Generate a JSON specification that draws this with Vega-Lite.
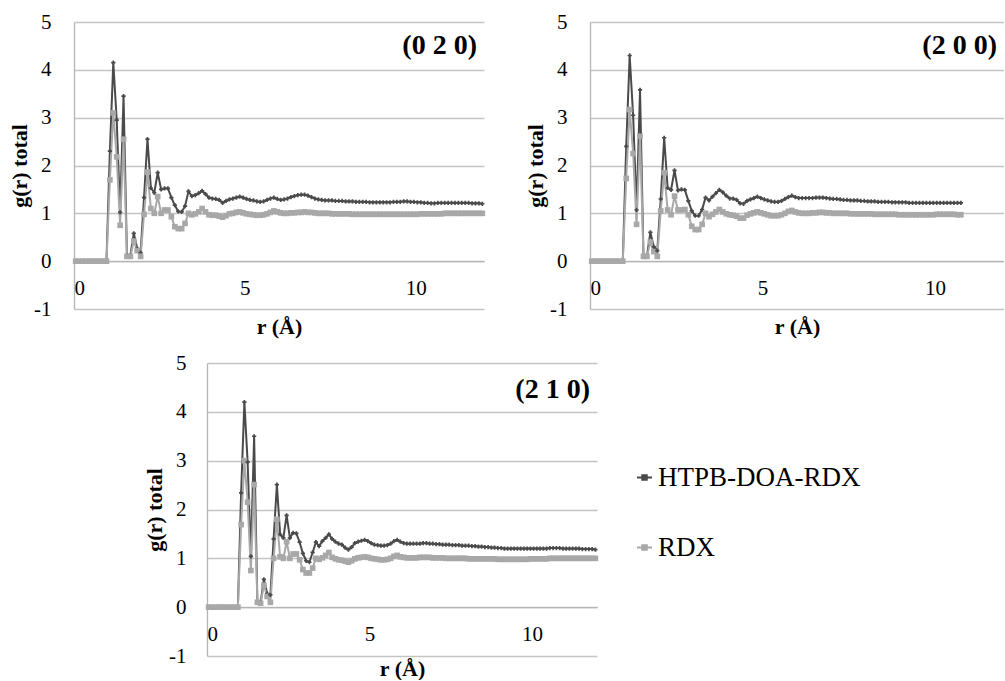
{
  "$schema": "https://vega.github.io/schema/vega-lite/v6.json",
  "background": "white",
  "padding": {"left": 8, "top": 11, "right": 0, "bottom": 0},
  "config": {
    "view": {"stroke": null},
    "font": "Liberation Serif",
    "axis": {
      "labelFont": "Liberation Serif", "labelFontSize": 21, "labelColor": "black",
      "titleFont": "Liberation Serif", "titleFontSize": 22, "titleFontWeight": "bold", "titleColor": "black",
      "ticks": false, "domainColor": "#b4b4b4", "domainWidth": 1.3, "gridColor": "#c4c4c4", "gridWidth": 1.3
    },
    "axisY": {"labelPadding": 23, "titlePadding": 2, "labelExpr": "'' + datum.value"},
    "axisX": {"grid": false, "labelPadding": 16, "titlePadding": 18},
    "legend": {"labelFont": "Liberation Serif"},
    "title": {"font": "Liberation Serif", "fontSize": 28, "fontWeight": "bold", "color": "black", "anchor": "end", "frame": "group", "orient": "top", "offset": -49, "dx": -7}
  },
  "datasets": {
    "p020": [
      {"r":0.05,"H":0,"R":0},{"r":0.15,"H":0,"R":0},{"r":0.25,"H":0,"R":0},{"r":0.35,"H":0,"R":0},{"r":0.45,"H":0,"R":0},{"r":0.55,"H":0,"R":0},{"r":0.65,"H":0,"R":0},{"r":0.75,"H":0,"R":0},{"r":0.85,"H":0,"R":0},{"r":0.95,"H":0,"R":0},
      {"r":1.05,"H":2.3,"R":1.7},{"r":1.15,"H":4.15,"R":3.1},{"r":1.25,"H":2.95,"R":2.18},{"r":1.35,"H":1.02,"R":0.75},{"r":1.45,"H":3.45,"R":2.55},{"r":1.55,"H":0.12,"R":0.1},{"r":1.65,"H":0.12,"R":0.1},{"r":1.75,"H":0.58,"R":0.42},{"r":1.85,"H":0.27,"R":0.22},{"r":1.95,"H":0.18,"R":0.1},
      {"r":2.05,"H":1.33,"R":0.98},{"r":2.15,"H":2.55,"R":1.86},{"r":2.25,"H":1.53,"R":1.1},{"r":2.35,"H":1.43,"R":1.0},{"r":2.45,"H":1.85,"R":1.35},{"r":2.55,"H":1.5,"R":1.0},{"r":2.65,"H":1.52,"R":1.07},{"r":2.75,"H":1.52,"R":1.07},{"r":2.85,"H":1.33,"R":0.93},{"r":2.95,"H":1.17,"R":0.72},
      {"r":3.05,"H":1.04,"R":0.68},{"r":3.15,"H":1.03,"R":0.68},{"r":3.25,"H":1.15,"R":0.79},{"r":3.35,"H":1.46,"R":1.0},{"r":3.45,"H":1.36,"R":0.97},{"r":3.55,"H":1.38,"R":0.99},{"r":3.65,"H":1.42,"R":1.03},{"r":3.75,"H":1.47,"R":1.1},{"r":3.85,"H":1.4,"R":1.03},{"r":3.95,"H":1.33,"R":0.97},
      {"r":4.05,"H":1.31,"R":0.96},{"r":4.15,"H":1.3,"R":0.96},{"r":4.25,"H":1.28,"R":0.94},{"r":4.35,"H":1.22,"R":0.92},{"r":4.45,"H":1.26,"R":0.95},{"r":4.55,"H":1.29,"R":0.99},{"r":4.65,"H":1.31,"R":1.0},{"r":4.75,"H":1.33,"R":1.02},{"r":4.85,"H":1.35,"R":1.03},{"r":4.95,"H":1.33,"R":1.01},
      {"r":5.05,"H":1.3,"R":0.99},{"r":5.15,"H":1.28,"R":0.98},{"r":5.25,"H":1.27,"R":0.97},{"r":5.35,"H":1.25,"R":0.96},{"r":5.45,"H":1.24,"R":0.96},{"r":5.55,"H":1.25,"R":0.97},{"r":5.65,"H":1.28,"R":0.99},{"r":5.75,"H":1.31,"R":1.02},{"r":5.85,"H":1.33,"R":1.05},{"r":5.95,"H":1.3,"R":1.03},
      {"r":6.05,"H":1.28,"R":1.01},{"r":6.15,"H":1.29,"R":1.0},{"r":6.25,"H":1.31,"R":1.0},{"r":6.35,"H":1.34,"R":1.01},{"r":6.45,"H":1.36,"R":1.01},{"r":6.55,"H":1.38,"R":1.02},{"r":6.65,"H":1.39,"R":1.02},{"r":6.75,"H":1.39,"R":1.03},{"r":6.85,"H":1.37,"R":1.02},{"r":6.95,"H":1.34,"R":1.02},
      {"r":7.05,"H":1.31,"R":1.01},{"r":7.15,"H":1.29,"R":1.0},{"r":7.25,"H":1.28,"R":1.0},{"r":7.35,"H":1.27,"R":1.0},{"r":7.45,"H":1.27,"R":1.0},{"r":7.55,"H":1.27,"R":0.99},{"r":7.65,"H":1.26,"R":0.99},{"r":7.75,"H":1.26,"R":0.99},{"r":7.85,"H":1.26,"R":0.99},{"r":7.95,"H":1.25,"R":0.99},
      {"r":8.05,"H":1.25,"R":0.99},{"r":8.15,"H":1.25,"R":0.98},{"r":8.25,"H":1.24,"R":0.98},{"r":8.35,"H":1.24,"R":0.98},{"r":8.45,"H":1.24,"R":0.98},{"r":8.55,"H":1.24,"R":0.98},{"r":8.65,"H":1.23,"R":0.98},{"r":8.75,"H":1.23,"R":0.98},{"r":8.85,"H":1.23,"R":0.98},{"r":8.95,"H":1.23,"R":0.98},
      {"r":9.05,"H":1.23,"R":0.98},{"r":9.15,"H":1.23,"R":0.98},{"r":9.25,"H":1.23,"R":0.98},{"r":9.35,"H":1.24,"R":0.98},{"r":9.45,"H":1.24,"R":0.98},{"r":9.55,"H":1.24,"R":0.98},{"r":9.65,"H":1.25,"R":0.98},{"r":9.75,"H":1.25,"R":0.98},{"r":9.85,"H":1.24,"R":0.98},{"r":9.95,"H":1.24,"R":0.98},
      {"r":10.05,"H":1.23,"R":0.98},{"r":10.15,"H":1.23,"R":0.99},{"r":10.25,"H":1.22,"R":0.99},{"r":10.35,"H":1.22,"R":0.99},{"r":10.45,"H":1.21,"R":0.99},{"r":10.55,"H":1.21,"R":0.99},{"r":10.65,"H":1.22,"R":0.99},{"r":10.75,"H":1.22,"R":0.99},{"r":10.85,"H":1.22,"R":1.0},{"r":10.95,"H":1.22,"R":1.0},
      {"r":11.05,"H":1.22,"R":1.0},{"r":11.15,"H":1.22,"R":1.0},{"r":11.25,"H":1.22,"R":1.0},{"r":11.35,"H":1.22,"R":1.0},{"r":11.45,"H":1.22,"R":1.0},{"r":11.55,"H":1.22,"R":1.0},{"r":11.65,"H":1.21,"R":1.0},{"r":11.75,"H":1.21,"R":1.0},{"r":11.85,"H":1.21,"R":1.0},{"r":11.95,"H":1.2,"R":1.0}
    ],
    "p200": [
      {"r":0.05,"H":0,"R":0},{"r":0.15,"H":0,"R":0},{"r":0.25,"H":0,"R":0},{"r":0.35,"H":0,"R":0},{"r":0.45,"H":0,"R":0},{"r":0.55,"H":0,"R":0},{"r":0.65,"H":0,"R":0},{"r":0.75,"H":0,"R":0},{"r":0.85,"H":0,"R":0},{"r":0.95,"H":0,"R":0},
      {"r":1.05,"H":2.4,"R":1.73},{"r":1.15,"H":4.3,"R":3.17},{"r":1.25,"H":3.05,"R":2.25},{"r":1.35,"H":1.07,"R":0.77},{"r":1.45,"H":3.58,"R":2.61},{"r":1.55,"H":0.1,"R":0.1},{"r":1.65,"H":0.1,"R":0.1},{"r":1.75,"H":0.6,"R":0.4},{"r":1.85,"H":0.3,"R":0.2},{"r":1.95,"H":0.22,"R":0.1},
      {"r":2.05,"H":1.3,"R":1.05},{"r":2.15,"H":2.58,"R":1.85},{"r":2.25,"H":1.53,"R":1.07},{"r":2.35,"H":1.49,"R":0.97},{"r":2.45,"H":1.9,"R":1.36},{"r":2.55,"H":1.48,"R":1.07},{"r":2.65,"H":1.5,"R":1.07},{"r":2.75,"H":1.49,"R":1.08},{"r":2.85,"H":1.26,"R":0.97},{"r":2.95,"H":1.05,"R":0.73},
      {"r":3.05,"H":0.95,"R":0.66},{"r":3.15,"H":0.95,"R":0.66},{"r":3.25,"H":1.08,"R":0.77},{"r":3.35,"H":1.33,"R":1.0},{"r":3.45,"H":1.27,"R":0.93},{"r":3.55,"H":1.35,"R":0.98},{"r":3.65,"H":1.42,"R":1.03},{"r":3.75,"H":1.49,"R":1.08},{"r":3.85,"H":1.44,"R":1.03},{"r":3.95,"H":1.37,"R":0.99},
      {"r":4.05,"H":1.31,"R":0.97},{"r":4.15,"H":1.31,"R":0.96},{"r":4.25,"H":1.28,"R":0.94},{"r":4.35,"H":1.21,"R":0.9},{"r":4.45,"H":1.2,"R":0.9},{"r":4.55,"H":1.26,"R":0.96},{"r":4.65,"H":1.29,"R":0.99},{"r":4.75,"H":1.32,"R":1.01},{"r":4.85,"H":1.35,"R":1.03},{"r":4.95,"H":1.32,"R":1.01},
      {"r":5.05,"H":1.29,"R":0.99},{"r":5.15,"H":1.27,"R":0.97},{"r":5.25,"H":1.25,"R":0.95},{"r":5.35,"H":1.24,"R":0.95},{"r":5.45,"H":1.24,"R":0.95},{"r":5.55,"H":1.26,"R":0.97},{"r":5.65,"H":1.3,"R":1.0},{"r":5.75,"H":1.34,"R":1.04},{"r":5.85,"H":1.37,"R":1.06},{"r":5.95,"H":1.34,"R":1.03},
      {"r":6.05,"H":1.32,"R":1.01},{"r":6.15,"H":1.32,"R":1.0},{"r":6.25,"H":1.32,"R":1.0},{"r":6.35,"H":1.32,"R":1.0},{"r":6.45,"H":1.32,"R":1.01},{"r":6.55,"H":1.33,"R":1.01},{"r":6.65,"H":1.33,"R":1.02},{"r":6.75,"H":1.33,"R":1.02},{"r":6.85,"H":1.32,"R":1.01},{"r":6.95,"H":1.31,"R":1.01},
      {"r":7.05,"H":1.3,"R":1.0},{"r":7.15,"H":1.3,"R":1.0},{"r":7.25,"H":1.29,"R":1.0},{"r":7.35,"H":1.28,"R":1.0},{"r":7.45,"H":1.28,"R":1.0},{"r":7.55,"H":1.27,"R":0.99},{"r":7.65,"H":1.27,"R":0.99},{"r":7.75,"H":1.27,"R":0.99},{"r":7.85,"H":1.26,"R":0.99},{"r":7.95,"H":1.26,"R":0.99},
      {"r":8.05,"H":1.25,"R":0.99},{"r":8.15,"H":1.25,"R":0.99},{"r":8.25,"H":1.25,"R":0.98},{"r":8.35,"H":1.24,"R":0.98},{"r":8.45,"H":1.24,"R":0.98},{"r":8.55,"H":1.24,"R":0.98},{"r":8.65,"H":1.24,"R":0.98},{"r":8.75,"H":1.23,"R":0.98},{"r":8.85,"H":1.23,"R":0.98},{"r":8.95,"H":1.23,"R":0.97},
      {"r":9.05,"H":1.23,"R":0.97},{"r":9.15,"H":1.23,"R":0.97},{"r":9.25,"H":1.22,"R":0.97},{"r":9.35,"H":1.22,"R":0.97},{"r":9.45,"H":1.22,"R":0.97},{"r":9.55,"H":1.22,"R":0.97},{"r":9.65,"H":1.22,"R":0.97},{"r":9.75,"H":1.22,"R":0.97},{"r":9.85,"H":1.22,"R":0.97},{"r":9.95,"H":1.22,"R":0.97},
      {"r":10.05,"H":1.22,"R":0.98},{"r":10.15,"H":1.22,"R":0.98},{"r":10.25,"H":1.22,"R":0.98},{"r":10.35,"H":1.22,"R":0.98},{"r":10.45,"H":1.22,"R":0.98},{"r":10.55,"H":1.22,"R":0.98},{"r":10.65,"H":1.22,"R":0.97},{"r":10.75,"H":1.22,"R":0.97}
    ],
    "p210": [
      {"r":0.05,"H":0,"R":0},{"r":0.15,"H":0,"R":0},{"r":0.25,"H":0,"R":0},{"r":0.35,"H":0,"R":0},{"r":0.45,"H":0,"R":0},{"r":0.55,"H":0,"R":0},{"r":0.65,"H":0,"R":0},{"r":0.75,"H":0,"R":0},{"r":0.85,"H":0,"R":0},{"r":0.95,"H":0,"R":0},
      {"r":1.05,"H":2.34,"R":1.69},{"r":1.15,"H":4.2,"R":3.0},{"r":1.25,"H":2.97,"R":2.15},{"r":1.35,"H":1.04,"R":0.75},{"r":1.45,"H":3.5,"R":2.51},{"r":1.55,"H":0.1,"R":0.1},{"r":1.65,"H":0.1,"R":0.08},{"r":1.75,"H":0.57,"R":0.45},{"r":1.85,"H":0.28,"R":0.22},{"r":1.95,"H":0.25,"R":0.1},
      {"r":2.05,"H":1.4,"R":1.0},{"r":2.15,"H":2.51,"R":1.8},{"r":2.25,"H":1.49,"R":1.03},{"r":2.35,"H":1.42,"R":1.0},{"r":2.45,"H":1.88,"R":1.34},{"r":2.55,"H":1.42,"R":1.0},{"r":2.65,"H":1.52,"R":1.09},{"r":2.75,"H":1.51,"R":1.09},{"r":2.85,"H":1.33,"R":0.97},{"r":2.95,"H":1.1,"R":0.77},
      {"r":3.05,"H":0.95,"R":0.7},{"r":3.15,"H":0.92,"R":0.7},{"r":3.25,"H":1.12,"R":0.8},{"r":3.35,"H":1.33,"R":1.0},{"r":3.45,"H":1.25,"R":0.98},{"r":3.55,"H":1.35,"R":1.01},{"r":3.65,"H":1.42,"R":1.06},{"r":3.75,"H":1.49,"R":1.12},{"r":3.85,"H":1.4,"R":1.02},{"r":3.95,"H":1.34,"R":0.99},
      {"r":4.05,"H":1.3,"R":0.97},{"r":4.15,"H":1.28,"R":0.96},{"r":4.25,"H":1.22,"R":0.94},{"r":4.35,"H":1.18,"R":0.92},{"r":4.45,"H":1.23,"R":0.95},{"r":4.55,"H":1.31,"R":0.99},{"r":4.65,"H":1.34,"R":1.01},{"r":4.75,"H":1.36,"R":1.02},{"r":4.85,"H":1.38,"R":1.03},{"r":4.95,"H":1.35,"R":1.02},
      {"r":5.05,"H":1.31,"R":1.0},{"r":5.15,"H":1.28,"R":0.99},{"r":5.25,"H":1.27,"R":0.98},{"r":5.35,"H":1.26,"R":0.97},{"r":5.45,"H":1.26,"R":0.97},{"r":5.55,"H":1.27,"R":0.98},{"r":5.65,"H":1.3,"R":1.0},{"r":5.75,"H":1.35,"R":1.04},{"r":5.85,"H":1.38,"R":1.06},{"r":5.95,"H":1.34,"R":1.03},
      {"r":6.05,"H":1.31,"R":1.02},{"r":6.15,"H":1.3,"R":1.01},{"r":6.25,"H":1.3,"R":1.01},{"r":6.35,"H":1.3,"R":1.01},{"r":6.45,"H":1.3,"R":1.01},{"r":6.55,"H":1.3,"R":1.02},{"r":6.65,"H":1.31,"R":1.02},{"r":6.75,"H":1.31,"R":1.02},{"r":6.85,"H":1.3,"R":1.02},{"r":6.95,"H":1.3,"R":1.01},
      {"r":7.05,"H":1.29,"R":1.01},{"r":7.15,"H":1.29,"R":1.01},{"r":7.25,"H":1.28,"R":1.01},{"r":7.35,"H":1.28,"R":1.0},{"r":7.45,"H":1.28,"R":1.0},{"r":7.55,"H":1.27,"R":1.0},{"r":7.65,"H":1.27,"R":1.0},{"r":7.75,"H":1.27,"R":1.0},{"r":7.85,"H":1.26,"R":1.0},{"r":7.95,"H":1.26,"R":1.0},
      {"r":8.05,"H":1.26,"R":0.99},{"r":8.15,"H":1.25,"R":0.99},{"r":8.25,"H":1.25,"R":0.99},{"r":8.35,"H":1.24,"R":0.99},{"r":8.45,"H":1.24,"R":0.99},{"r":8.55,"H":1.23,"R":0.99},{"r":8.65,"H":1.23,"R":0.99},{"r":8.75,"H":1.22,"R":0.99},{"r":8.85,"H":1.22,"R":0.99},{"r":8.95,"H":1.21,"R":0.98},
      {"r":9.05,"H":1.21,"R":0.98},{"r":9.15,"H":1.2,"R":0.98},{"r":9.25,"H":1.2,"R":0.98},{"r":9.35,"H":1.2,"R":0.98},{"r":9.45,"H":1.2,"R":0.98},{"r":9.55,"H":1.2,"R":0.98},{"r":9.65,"H":1.2,"R":0.98},{"r":9.75,"H":1.2,"R":0.98},{"r":9.85,"H":1.2,"R":0.98},{"r":9.95,"H":1.2,"R":0.99},
      {"r":10.05,"H":1.2,"R":0.99},{"r":10.15,"H":1.2,"R":0.99},{"r":10.25,"H":1.2,"R":0.99},{"r":10.35,"H":1.2,"R":0.99},{"r":10.45,"H":1.2,"R":0.99},{"r":10.55,"H":1.21,"R":1.0},{"r":10.65,"H":1.21,"R":1.0},{"r":10.75,"H":1.21,"R":1.0},{"r":10.85,"H":1.21,"R":1.0},{"r":10.95,"H":1.2,"R":1.0},
      {"r":11.05,"H":1.2,"R":1.0},{"r":11.15,"H":1.2,"R":1.0},{"r":11.25,"H":1.2,"R":1.0},{"r":11.35,"H":1.2,"R":1.0},{"r":11.45,"H":1.2,"R":1.0},{"r":11.55,"H":1.19,"R":1.0},{"r":11.65,"H":1.19,"R":1.0},{"r":11.75,"H":1.19,"R":1.0},{"r":11.85,"H":1.19,"R":1.0},{"r":11.95,"H":1.18,"R":1.0}
    ]
  },
  "spacing": 14,
  "resolve": {"scale": {"color": "independent"}, "legend": {"color": "independent"}},
  "vconcat": [
    {
      "hconcat": [
        {
          "width": 410, "height": 287,
          "data": {"name": "p020"},
          "title": {"text": "(0 2 0)"},
          "transform": [{"fold": ["H", "R"], "as": ["s", "g"]}],
          "encoding": {
            "x": {"field": "r", "type": "quantitative", "scale": {"domain": [0, 12], "nice": false, "zero": false}, "axis": {"title": "r (Å)", "values": [0, 5, 10], "offset": -47.83}},
            "y": {"field": "g", "type": "quantitative", "scale": {"domain": [-1, 5], "nice": false}, "axis": {"title": "g(r) total", "values": [-1, 0, 1, 2, 3, 4, 5]}},
            "color": {"field": "s", "type": "nominal", "scale": {"domain": ["H", "R"], "range": ["#4a4a4a", "#a8a8a8"]}, "legend": null}
          },
          "layer": [
            {"mark": {"type": "line", "strokeWidth": 2}},
            {"mark": {"type": "point", "filled": true, "opacity": 1},
             "encoding": {
               "shape": {"field": "s", "type": "nominal", "scale": {"domain": ["H", "R"], "range": ["cross", "square"]}, "legend": null},
               "size": {"field": "s", "type": "nominal", "scale": {"domain": ["H", "R"], "range": [18, 32]}, "legend": null}
             }}
          ]
        },
        {
          "width": 414, "height": 287,
          "data": {"name": "p200"},
          "title": {"text": "(2 0 0)"},
          "transform": [{"fold": ["H", "R"], "as": ["s", "g"]}],
          "encoding": {
            "x": {"field": "r", "type": "quantitative", "scale": {"domain": [0, 12], "nice": false, "zero": false}, "axis": {"title": "r (Å)", "values": [0, 5, 10], "offset": -47.83}},
            "y": {"field": "g", "type": "quantitative", "scale": {"domain": [-1, 5], "nice": false}, "axis": {"title": "g(r) total", "values": [-1, 0, 1, 2, 3, 4, 5]}},
            "color": {"field": "s", "type": "nominal", "scale": {"domain": ["H", "R"], "range": ["#4a4a4a", "#a8a8a8"]}, "legend": null}
          },
          "layer": [
            {"mark": {"type": "line", "strokeWidth": 2}},
            {"mark": {"type": "point", "filled": true, "opacity": 1},
             "encoding": {
               "shape": {"field": "s", "type": "nominal", "scale": {"domain": ["H", "R"], "range": ["cross", "square"]}, "legend": null},
               "size": {"field": "s", "type": "nominal", "scale": {"domain": ["H", "R"], "range": [18, 32]}, "legend": null}
             }}
          ]
        }
      ],
      "spacing": 106,
      "bounds": "flush",
      "resolve": {"scale": {"color": "independent"}, "legend": {"color": "independent"}}
    },
    {
      "hconcat": [
        {
          "width": 133, "height": 293,
          "data": {"values": []},
          "mark": {"type": "point", "opacity": 0}
        },
        {
          "width": 390, "height": 293,
          "data": {"name": "p210"},
          "title": {"text": "(2 1 0)", "offset": -52},
          "transform": [{"fold": ["H", "R"], "as": ["s", "g"]}],
          "encoding": {
            "x": {"field": "r", "type": "quantitative", "scale": {"domain": [0, 12], "nice": false, "zero": false}, "axis": {"title": "r (Å)", "values": [0, 5, 10], "offset": -48.83, "titlePadding": 14}},
            "y": {"field": "g", "type": "quantitative", "scale": {"domain": [-1, 5], "nice": false}, "axis": {"title": "g(r) total", "values": [-1, 0, 1, 2, 3, 4, 5], "labelPadding": 21}},
            "color": {"field": "s", "type": "nominal", "scale": {"domain": ["H", "R"], "range": ["#4a4a4a", "#a8a8a8"]},
              "legend": {"title": null, "orient": "none", "legendX": 424, "legendY": 101, "padding": 0,
                "labelExpr": "datum.value == 'H' ? 'HTPB-DOA-RDX' : 'RDX'", "labelLimit": 0,
                "labelFontSize": 27, "labelColor": "black", "labelOffset": 0,
                "rowPadding": 42, "symbolType": "M-1,0H1M-0.3,-0.3H0.3V0.3H-0.3Z", "symbolSize": 225, "symbolStrokeWidth": 2}}
          },
          "layer": [
            {"mark": {"type": "line", "strokeWidth": 2}},
            {"mark": {"type": "point", "filled": true, "opacity": 1},
             "encoding": {
               "shape": {"field": "s", "type": "nominal", "scale": {"domain": ["H", "R"], "range": ["cross", "square"]}, "legend": null},
               "size": {"field": "s", "type": "nominal", "scale": {"domain": ["H", "R"], "range": [18, 32]}, "legend": null}
             }}
          ]
        }
      ],
      "spacing": 0,
      "bounds": "flush",
      "resolve": {"scale": {"color": "independent"}, "legend": {"color": "independent"}}
    }
  ]
}
